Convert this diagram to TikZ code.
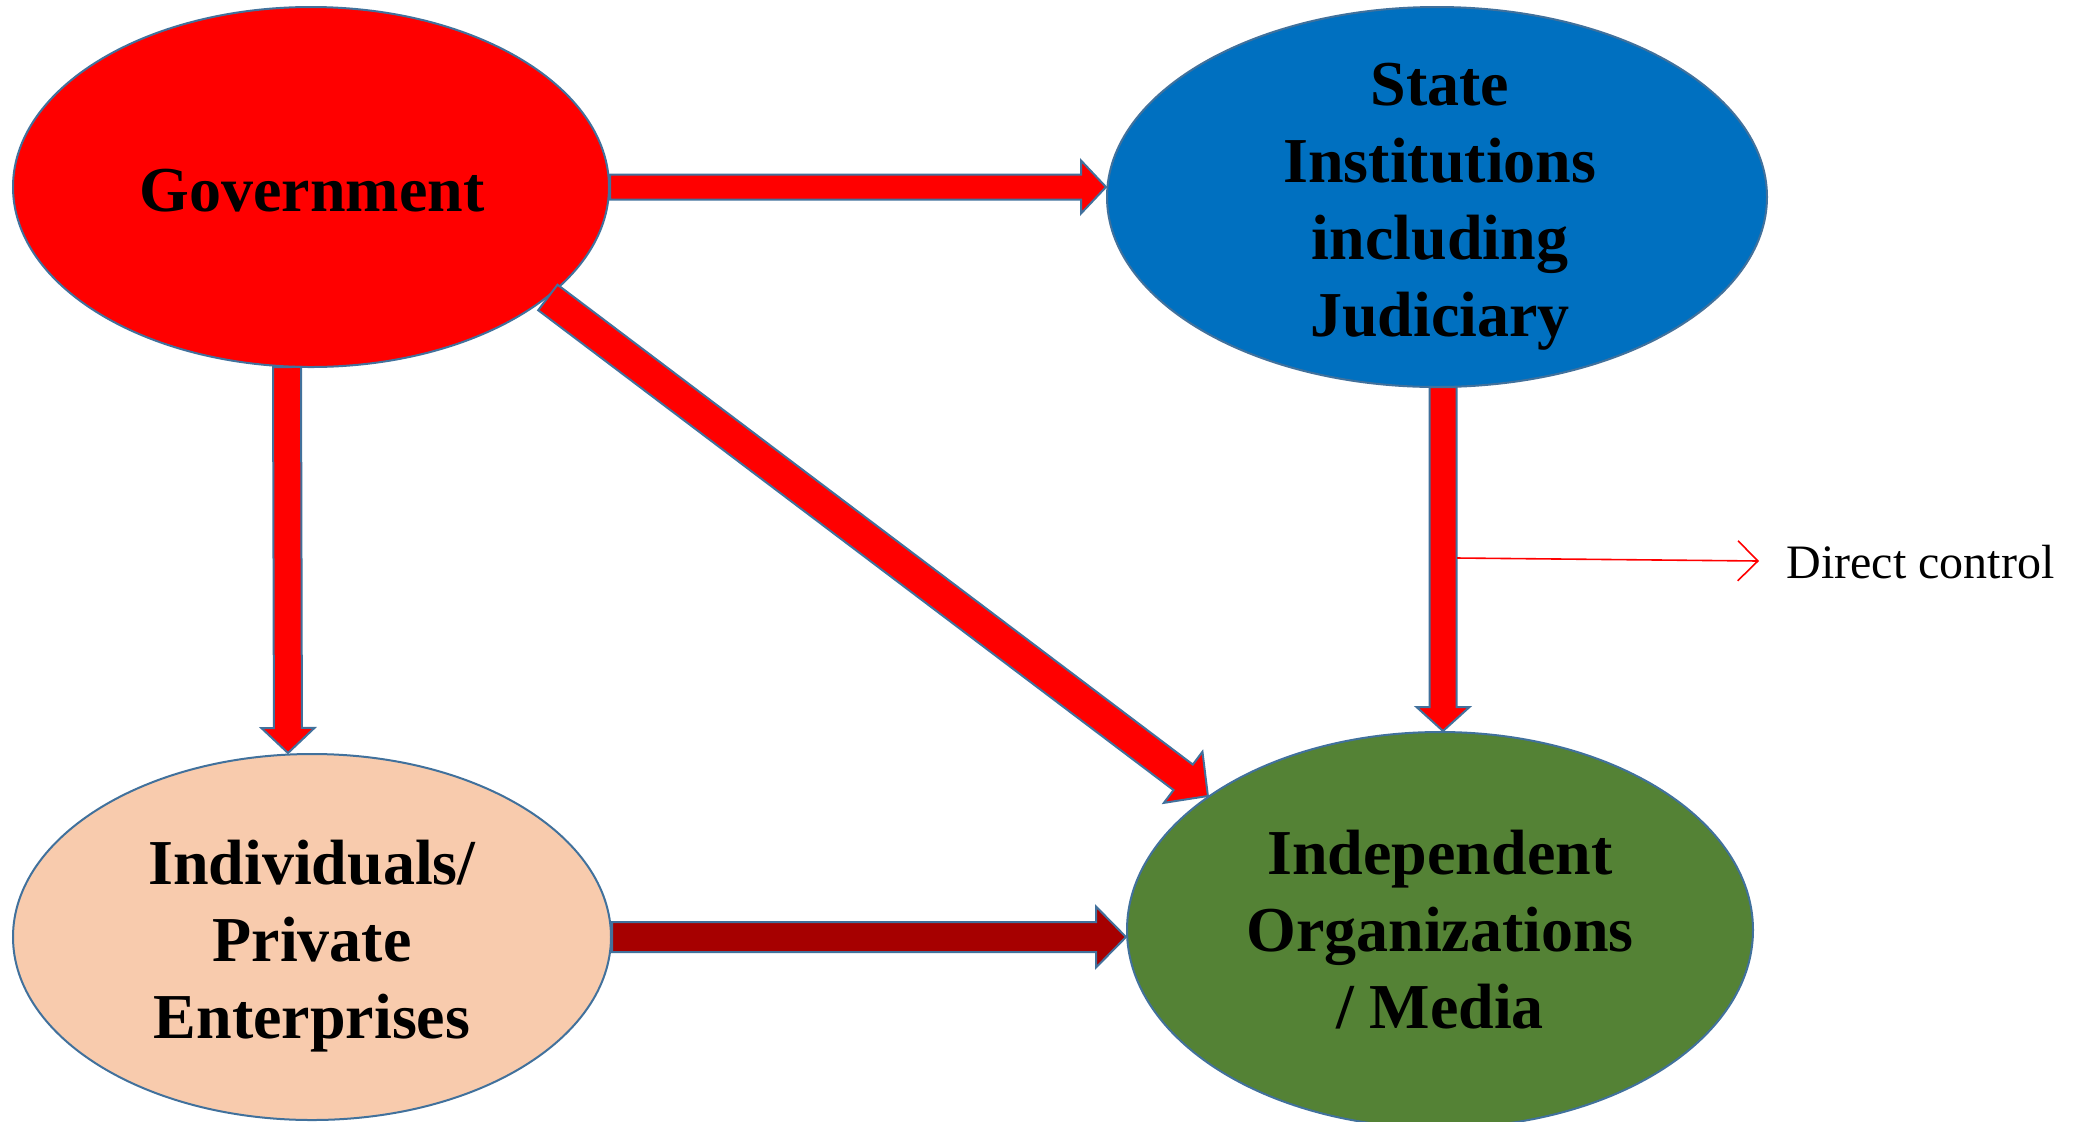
\documentclass[tikz,border=0pt]{standalone}
\usepackage{fontspec}
\setmainfont{Liberation Serif}
\usetikzlibrary{shapes.geometric,calc,arrows.meta}
\definecolor{govred}{RGB}{255,0,0}
\definecolor{stateblue}{RGB}{0,112,192}
\definecolor{peach}{RGB}{248,203,173}
\definecolor{orggreen}{RGB}{84,130,53}
\definecolor{outl}{RGB}{65,113,156}
\definecolor{darkred}{RGB}{166,0,0}
% block arrow: #1 start, #2 tip, #3 half shaft, #4 half head, #5 head length, #6 fill
\newcommand{\blockarr}[6]{%
  \coordinate (ba-h) at ($(#2)!#5!(#1)$);
  \filldraw[arrline, fill=#6]
    ($(#1)!#3!90:(#2)$) -- ($(ba-h)!#3!90:(#2)$) -- ($(ba-h)!#4!90:(#2)$) --
    (#2) --
    ($(ba-h)!#4!-90:(#2)$) -- ($(ba-h)!#3!-90:(#2)$) -- ($(#1)!#3!-90:(#2)$) -- cycle;
}
\begin{document}
\begin{tikzpicture}[x=0.5pt,y=-0.5pt,
  blob/.style={ellipse, draw=outl, line width=1pt, inner sep=0pt},
  arrline/.style={draw=outl, line width=1pt, line join=miter},
  txt/.style={font=\fontsize{32}{38.5}\selectfont\bfseries, inner sep=0pt, align=center},
  small/.style={font=\fontsize{24}{28}\selectfont, inner sep=0pt}]
\useasboundingbox (0,0) rectangle (2082,1121);
\fill[white] (0,0) rectangle (2082,1121);

\node[blob, fill=govred, minimum width=298pt, minimum height=180pt] (gov) at (311,187) {};
\node[blob, fill=stateblue, minimum width=330pt, minimum height=190pt] (state) at (1437,197) {};
\node[blob, fill=peach, minimum width=299pt, minimum height=183pt] (indiv) at (312,937) {};
\node[blob, fill=orggreen, minimum width=313pt, minimum height=198pt] (indep) at (1440,930) {};

\node[txt, anchor=base] (govtxt) at (312,211) {Government};
\node[txt] (statetxt) at (1440,206.5) {State\\Institutions\\including\\Judiciary};
\node[txt] (indivtxt) at (312,946) {Individuals/\\Private\\Enterprises};
\node[txt] (indeptxt) at (1440,930) {Independent\\Organizations\\/ Media};

% Government -> State institutions
\blockarr{gov.east}{state.west |- gov.east}{6.25pt}{13.25pt}{12.5pt}{govred}
% Government -> Individuals
\coordinate (gi1) at ($(gov.south)+(-24,-1)$);
\coordinate (gi2) at ($(indiv.north)+(-24,0)$);
\blockarr{gi1}{gi2}{7pt}{13.25pt}{12.5pt}{govred}
% State institutions -> Independent
\coordinate (si1) at ($(state.south)+(6,-1)$);
\coordinate (si2) at ($(indep.north)+(3,0)$);
\blockarr{si1}{si2}{6.75pt}{13.25pt}{12pt}{govred}
% Individuals -> Independent
\blockarr{indiv.east}{indep.west |- indiv.east}{7.5pt}{15.25pt}{15pt}{darkred}
% Government -> Independent (diagonal)
\blockarr{gov.-25.6}{indep.150.3}{8pt}{16pt}{15.5pt}{govred}

% legend
\coordinate (dcstart) at (1457,558);
\coordinate (dcend) at (1759,561);
\draw[govred, line width=0.8pt, -{Straight Barb[length=10pt,width=20pt,line width=0.8pt]}] (dcstart) -- (dcend);
\node[small, anchor=base west] (dctxt) at (1786,578) {Direct control};
\end{tikzpicture}
\end{document}
